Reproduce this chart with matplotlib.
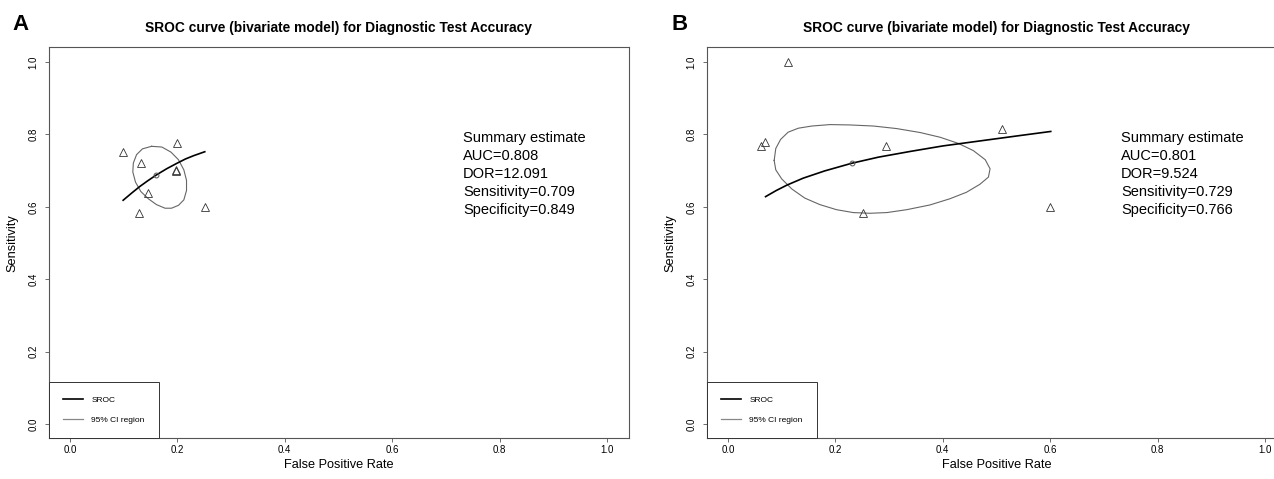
import matplotlib
matplotlib.use("Agg")
import matplotlib.pyplot as plt
from matplotlib.lines import Line2D

plt.rcParams['font.family'] = ['Liberation Sans', 'DejaVu Sans']

# ---- panel A: study points, summary point, SROC curve, 95% CI region
a_fpr = [0.099, 0.200, 0.132, 0.197, 0.198, 0.146, 0.128, 0.251]
a_sens = [0.752, 0.777, 0.722, 0.700, 0.701, 0.637, 0.584, 0.600]
a_sum = (0.161, 0.689)
a_sroc_x = [0.099, 0.115, 0.130, 0.145, 0.161, 0.180, 0.199, 0.215, 0.230, 0.251]
a_sroc_y = [0.618, 0.638, 0.656, 0.672, 0.688, 0.705, 0.720, 0.732, 0.741, 0.752]
a_ci_x = [0.152, 0.171, 0.188, 0.202, 0.212, 0.217, 0.217, 0.212, 0.202, 0.189,
          0.177, 0.161, 0.146, 0.132, 0.122, 0.117, 0.118, 0.124, 0.135, 0.152]
a_ci_y = [0.767, 0.765, 0.751, 0.730, 0.702, 0.673, 0.645, 0.619, 0.604, 0.596,
          0.596, 0.606, 0.622, 0.642, 0.668, 0.696, 0.721, 0.744, 0.760, 0.767]
a_stats = ["AUC=0.808", "DOR=12.091", "Sensitivity=0.709", "Specificity=0.849"]

# ---- panel B
b_fpr = [0.111, 0.0615, 0.068, 0.294, 0.510, 0.600, 0.251]
b_sens = [1.000, 0.769, 0.779, 0.769, 0.815, 0.600, 0.582]
b_sum = (0.230, 0.721)
b_sroc_x = [0.070, 0.090, 0.110, 0.140, 0.180, 0.230, 0.280, 0.340, 0.400,
            0.470, 0.540, 0.601]
b_sroc_y = [0.628, 0.645, 0.660, 0.679, 0.699, 0.720, 0.737, 0.753, 0.768,
            0.782, 0.796, 0.808]
b_ci_x = [0.086, 0.089, 0.098, 0.112, 0.131, 0.156, 0.190, 0.227, 0.271, 0.314,
          0.358, 0.395, 0.429, 0.457, 0.479, 0.488, 0.485, 0.469, 0.444, 0.413,
          0.376, 0.333, 0.296, 0.264, 0.233, 0.202, 0.171, 0.143, 0.119, 0.100,
          0.089, 0.086]
b_ci_y = [0.728, 0.761, 0.786, 0.806, 0.817, 0.823, 0.827, 0.826, 0.823, 0.816,
          0.805, 0.792, 0.775, 0.755, 0.730, 0.705, 0.682, 0.662, 0.640, 0.622,
          0.605, 0.592, 0.584, 0.582, 0.584, 0.592, 0.606, 0.624, 0.649, 0.677,
          0.702, 0.728]
b_stats = ["AUC=0.801", "DOR=9.524", "Sensitivity=0.729", "Specificity=0.766"]

TITLE = "SROC curve (bivariate model) for Diagnostic Test Accuracy"
ticks = [0.0, 0.2, 0.4, 0.6, 0.8, 1.0]

fig = plt.figure(figsize=(12.74, 4.79), dpi=100)
axA = fig.add_axes([48.5 / 1274, 0.0846, 580 / 1274, 0.8163])
axB = fig.add_axes([706.5 / 1274, 0.0846, 580 / 1274, 0.8163])


def draw(ax, fpr, sens, summ, sx, sy, cx, cy, stats, letter, lx):
    ax.plot(sx, sy, color="black", lw=1.2, zorder=3)
    ax.plot(cx, cy, color="#666666", lw=0.8, zorder=2)
    ax.plot(fpr, sens, ls="none", marker="^", ms=5.3, mfc="none",
            mec="#333333", mew=0.6, zorder=4)
    ax.plot(summ[0], summ[1], ls="none", marker="o", ms=3.5, mfc="none",
            mec="#555555", mew=0.7, zorder=4)
    ax.text(0.732, 0.808, "Summary estimate\n" + "\n".join(stats),
            fontsize=10.5, va="top", ha="left", linespacing=1.36)

    ax.set_xlim(-0.04, 1.04)
    ax.set_ylim(-0.04, 1.04)
    ax.set_xticks(ticks)
    ax.set_yticks(ticks)
    ax.set_xticklabels([f"{t:.1f}" for t in ticks], fontsize=7)
    ax.set_yticklabels([f"{t:.1f}" for t in ticks], fontsize=7,
                       rotation=90, va="center")
    ax.tick_params(direction="out", length=2.8, width=0.6, color="#555555")
    ax.tick_params(axis="x", pad=1.6)
    ax.tick_params(axis="y", pad=4.5)
    for sp in ax.spines.values():
        sp.set_color("#555555")
        sp.set_linewidth(0.8)
    ax.set_xlabel("False Positive Rate", fontsize=9.2, labelpad=3)
    ax.set_ylabel("Sensitivity", fontsize=9.2, labelpad=7.5)
    ax.set_title(TITLE, fontsize=9.9, fontweight="bold", pad=11)

    handles = [Line2D([], [], color="black", lw=1.2),
               Line2D([], [], color="#888888", lw=0.9)]
    leg = ax.legend(handles, ["SROC", "95% CI region"], loc="lower left",
                    bbox_to_anchor=(0, 0), borderaxespad=0, fontsize=6.0,
                    fancybox=False, edgecolor="#333333", framealpha=1,
                    handlelength=2.4, handletextpad=1.0, labelspacing=1.4,
                    borderpad=1.75)
    leg.get_frame().set_linewidth(0.7)

    ax.text(lx, 1.045, letter, transform=ax.transAxes, fontsize=16,
            fontweight="bold", ha="left", va="baseline")


draw(axA, a_fpr, a_sens, a_sum, a_sroc_x, a_sroc_y, a_ci_x, a_ci_y, a_stats,
     "A", -0.063)
draw(axB, b_fpr, b_sens, b_sum, b_sroc_x, b_sroc_y, b_ci_x, b_ci_y, b_stats,
     "B", -0.0595)

fig.savefig("out.png", dpi=100)
